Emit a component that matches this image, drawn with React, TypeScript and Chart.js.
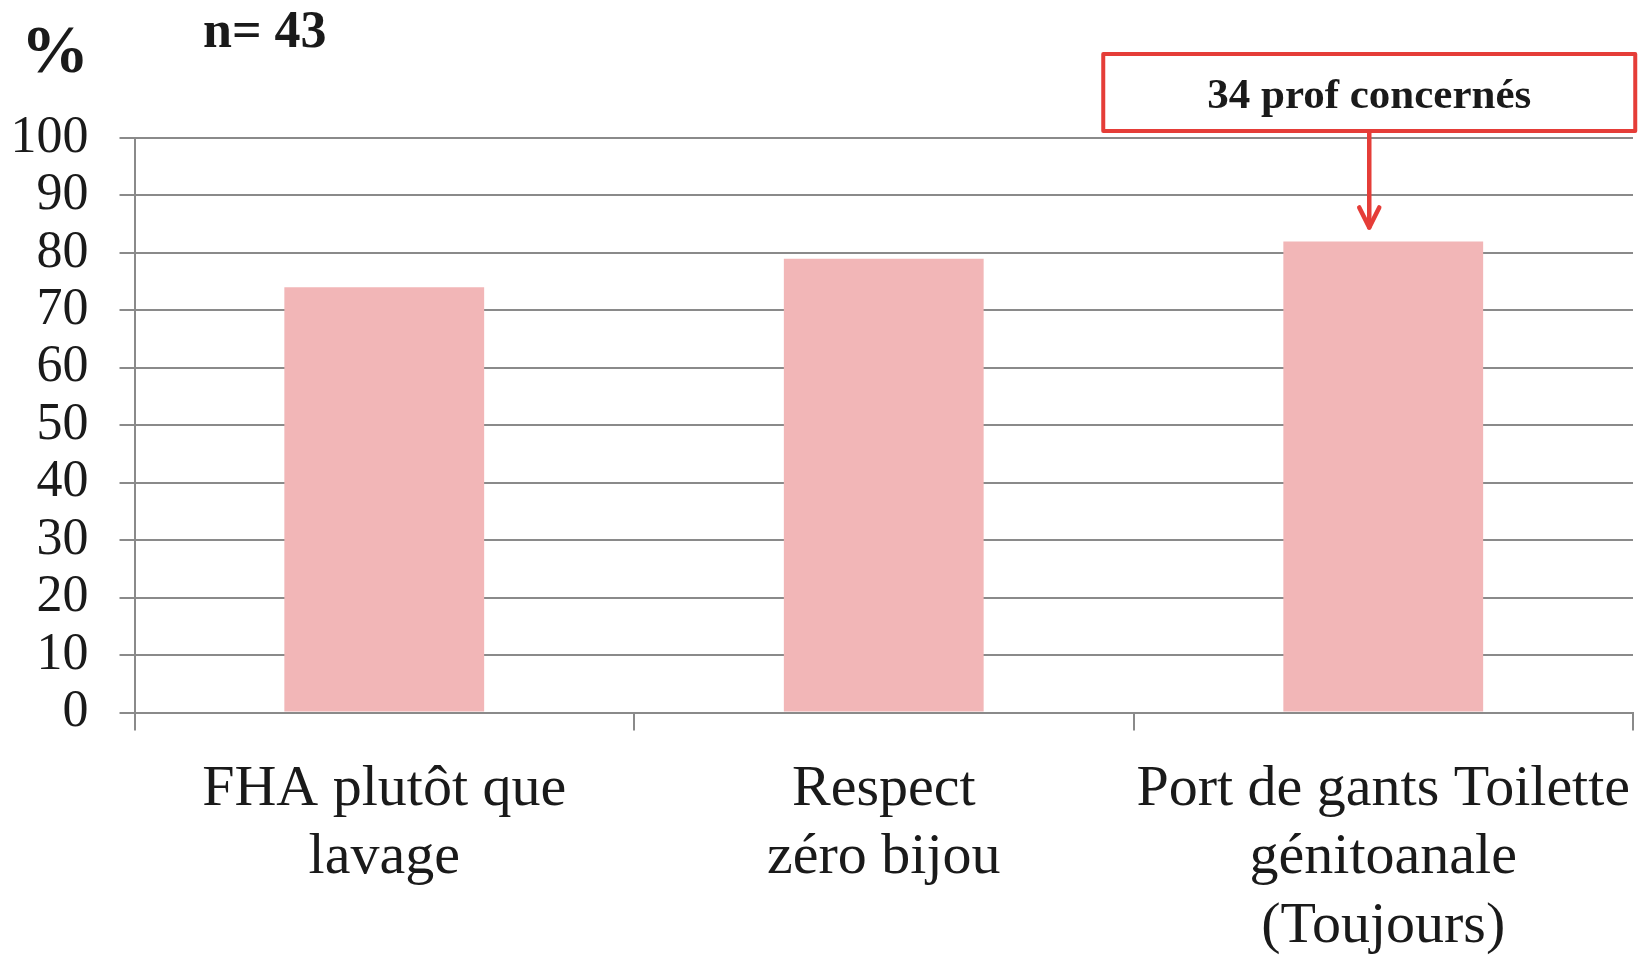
import React, { useEffect, useRef } from 'react';
import { Chart, registerables } from 'chart.js';

Chart.register(...registerables);

const categories: string[][] = [
  ['FHA plutôt que', 'lavage'],
  ['Respect', 'zéro bijou'],
  ['Port de gants Toilette', 'génitoanale', '(Toujours)'],
];
const values: number[] = [74, 79, 82];
const yMin = 0;
const yMax = 100;
const yStep = 10;
const unitLabel = '%';
const sampleLabel = 'n= 43';
const calloutText = '34 prof concernés';
const calloutIndex = 2;

const GRID = '#8a8a8a';
const BAR = '#f2b6b7';
const TEXT = '#1a1a1a';
const RED = '#e53d38';

const overlayPlugin = {
  id: 'overlay',
  afterDraw(chart: any) {
    const ctx = chart.ctx as CanvasRenderingContext2D;
    const xs = chart.scales.x;
    const ys = chart.scales.y;
    const area = chart.chartArea;
    ctx.save();
    ctx.fillStyle = TEXT;
    ctx.textBaseline = 'alphabetic';
    ctx.textAlign = 'left';
    ctx.font = 'bold 68px "Liberation Serif", serif';
    ctx.fillText(unitLabel, 21, 72);
    ctx.font = 'bold 52px "Liberation Serif", serif';
    ctx.fillText(sampleLabel, 203, 47);

    // callout box
    const cx = xs.getPixelForValue(calloutIndex) - 14;
    const barTop = ys.getPixelForValue(values[calloutIndex]);
    const boxW = 532;
    const boxH = 77;
    const boxTop = area.top - 84;
    ctx.fillStyle = '#ffffff';
    ctx.fillRect(cx - boxW / 2, boxTop, boxW, boxH);
    ctx.strokeStyle = RED;
    ctx.lineWidth = 4;
    ctx.lineJoin = 'round';
    ctx.strokeRect(cx - boxW / 2, boxTop, boxW, boxH);
    ctx.fillStyle = TEXT;
    ctx.textAlign = 'center';
    ctx.font = 'bold 43px "Liberation Serif", serif';
    ctx.fillText(calloutText, cx, boxTop + 54);

    // arrow
    const tipY = barTop - 14;
    ctx.lineWidth = 4.5;
    ctx.lineCap = 'round';
    ctx.beginPath();
    ctx.moveTo(cx, boxTop + boxH + 2);
    ctx.lineTo(cx, tipY);
    ctx.stroke();
    ctx.beginPath();
    ctx.moveTo(cx - 10, tipY - 20);
    ctx.lineTo(cx, tipY);
    ctx.lineTo(cx + 10, tipY - 20);
    ctx.stroke();
    ctx.restore();
  },
};

export default function App() {
  const ref = useRef<HTMLCanvasElement | null>(null);
  useEffect(() => {
    if (!ref.current) return;
    const chart = new Chart(ref.current, {
      type: 'bar',
      data: {
        labels: categories,
        datasets: [
          {
            data: values,
            backgroundColor: BAR,
            borderWidth: 0,
            barPercentage: 0.4,
            categoryPercentage: 1,
          },
        ],
      },
      plugins: [overlayPlugin],
      options: {
        responsive: false,
        animation: false,
        events: [],
        layout: { padding: { top: 138, right: 17, left: 0, bottom: 0 } },
        plugins: {
          legend: { display: false },
          tooltip: { enabled: false },
          title: { display: false },
        },
        scales: {
          x: {
            offset: true,
            grid: {
              offset: true,
              drawOnChartArea: false,
              drawTicks: true,
              tickLength: 18,
              color: GRID,
              lineWidth: 2,
            },
            border: { display: true, color: GRID, width: 2 },
            ticks: {
              autoSkip: false,
              maxRotation: 0,
              minRotation: 0,
              padding: 25,
              color: TEXT,
              font: { family: '"Liberation Serif", serif', size: 58, lineHeight: 1.18 },
            },
            afterFit: (s: any) => {
              s.height = 243.5;
              s.paddingLeft = 0;
              s.paddingRight = 0;
            },
          },
          y: {
            min: yMin,
            max: yMax,
            ticks: {
              stepSize: yStep,
              autoSkip: false,
              padding: 31,
              color: TEXT,
              font: { family: '"Liberation Serif", serif', size: 52 },
            },
            grid: {
              color: GRID,
              lineWidth: 2,
              drawTicks: true,
              tickLength: 15,
            },
            border: { display: true, color: GRID, width: 2 },
            afterFit: (s: any) => {
              s.width = 134.5;
              s.paddingTop = 0;
              s.paddingBottom = 0;
            },
          },
        },
      },
    });
    return () => chart.destroy();
  }, []);
  return (
    <div style={{ position: 'absolute', left: 0, top: 0, width: 1650, height: 956, background: '#fff' }}>
      <canvas ref={ref} width={1650} height={956} style={{ display: 'block' }} />
    </div>
  );
}
